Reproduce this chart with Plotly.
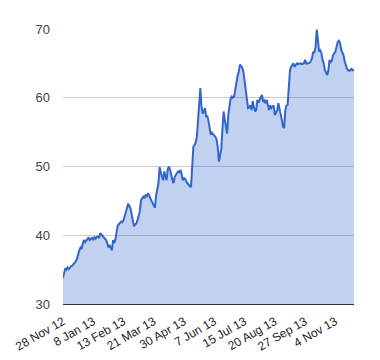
import pandas as pd
import plotly.graph_objects as go

# Trading calendar (LSE holidays plus one missing session)
START = "2012-11-28"
END = "2013-11-26"
HOLIDAYS = ["2012-12-25", "2012-12-26", "2013-01-01", "2013-03-29", "2013-04-01",
            "2013-05-06", "2013-05-27", "2013-08-26", "2013-09-02"]

PRICES = [
    33.8, 34.6, 35.2, 35.0, 35.3, 35.1, 35.4, 35.5, 35.6, 35.8,
    35.9, 36.2, 36.6, 37.3, 37.8, 38.2, 38.0, 38.8, 39.3, 39.0,
    39.2, 39.5, 39.7, 39.3, 39.5, 39.6, 39.4, 39.7, 39.5, 39.8,
    39.8, 39.6, 40.3, 40.1, 40.0, 39.8, 39.6, 39.3, 38.9, 38.2,
    38.6, 38.3, 37.8, 39.3, 38.9, 39.4, 40.8, 41.4, 41.6, 41.8,
    42.0, 41.9, 42.2, 42.8, 43.6, 44.0, 44.6, 44.2, 43.9, 43.0,
    42.2, 41.3, 41.6, 41.7, 42.2, 43.0, 43.5, 45.1, 45.3, 45.6,
    45.4, 45.9, 45.7, 46.1, 45.8, 45.2, 45.0, 44.7, 44.3, 44.0,
    45.8, 46.8, 47.6, 49.9, 49.0, 48.5, 48.0, 49.3, 48.6, 48.0,
    49.6, 50.0, 49.5, 48.6, 48.0, 47.6, 48.5, 48.8, 49.1, 49.3,
    49.2, 49.5, 48.8, 48.0, 48.3, 48.2, 47.8, 47.6, 47.3, 47.1,
    47.1, 49.5, 52.9, 53.1, 53.5, 54.3, 56.8, 58.6, 61.4, 58.7,
    57.7, 58.0, 58.5, 57.2, 57.4, 56.6, 55.6, 54.6, 54.9, 54.7,
    54.5, 54.3, 53.9, 52.8, 50.7, 51.5, 52.6, 55.5, 58.0, 56.8,
    56.0, 54.8, 57.5, 58.8, 59.9, 60.2, 60.0, 60.2, 61.4, 62.4,
    63.2, 63.8, 64.8, 64.6, 64.4, 63.8, 62.4, 61.6, 59.5, 58.5,
    58.6, 58.9, 58.2, 59.5, 58.7, 58.0, 58.2, 59.7, 59.3, 59.9,
    60.1, 60.4, 59.4, 59.6, 59.2, 59.7, 58.6, 58.2, 58.9, 58.5,
    58.7, 58.9, 57.5, 57.9, 58.2, 59.2, 58.5, 57.6, 56.8, 55.8,
    55.6, 58.2, 58.9, 59.0, 61.6, 64.0, 64.5, 64.8, 65.0, 64.5,
    64.8, 65.0, 64.9, 65.0, 65.0, 64.9, 65.0, 65.0, 65.5, 65.0,
    65.0, 65.0, 65.1, 65.4, 65.8, 66.7, 66.5, 67.4, 69.9, 68.4,
    66.7, 66.9, 66.5, 65.5, 65.0, 64.0, 63.5, 63.3, 64.0, 65.5,
    65.2, 65.4, 66.2, 66.4, 66.7, 67.4, 68.1, 68.3, 68.0, 67.0,
    66.6, 66.2, 65.3, 64.5, 64.2, 64.0, 63.9, 64.0, 64.2, 64.0, 64.0,
]

TICK_LABELS = ["28 Nov 12", "8 Jan 13", "13 Feb 13", "21 Mar 13", "30 Apr 13",
               "7 Jun 13", "15 Jul 13", "20 Aug 13", "27 Sep 13", "4 Nov 13"]
Y_TICKS = [30, 40, 50, 60, 70]

dates = pd.bdate_range(START, END, freq="C", holidays=HOLIDAYS)
categories = [f"{d.day} {d.strftime('%b %y')}" for d in dates]
n = min(len(categories), len(PRICES))
categories = categories[:n]
values = PRICES[:n]

FONT = "Arial, Liberation Sans, sans-serif"

fig = go.Figure()
fig.add_trace(go.Scatter(
    x=categories, y=values, mode="lines",
    line=dict(color="#3366cc", width=2),
    fill="tozeroy", fillcolor="rgba(51,102,204,0.3)",
    hoverinfo="x+y", showlegend=False,
))

# the page body has an 8px default margin, so the figure is 8px smaller
fig.update_layout(
    width=372, height=352,
    margin=dict(l=55, r=26, t=21, b=56),
    paper_bgcolor="white", plot_bgcolor="white",
    font=dict(family=FONT, size=13, color="#444"),
    xaxis=dict(
        type="category", range=[0, n - 1], automargin=False,
        tickmode="array", tickvals=TICK_LABELS, ticktext=TICK_LABELS,
        tickangle=-30, showgrid=False, zeroline=False,
        showline=True, linecolor="#333", linewidth=1,
        ticks="", ticklabelstandoff=5,
        tickfont=dict(family=FONT, size=12, color="#222"),
    ),
    yaxis=dict(
        range=[30, 70], tickmode="array", tickvals=Y_TICKS, automargin=False,
        showgrid=True, gridcolor="#cccccc", gridwidth=1,
        zeroline=False, showline=False, ticks="",
        ticklabelstandoff=12,
        tickfont=dict(family=FONT, size=13, color="#444"),
    ),
)

fig.write_html("out.html")
